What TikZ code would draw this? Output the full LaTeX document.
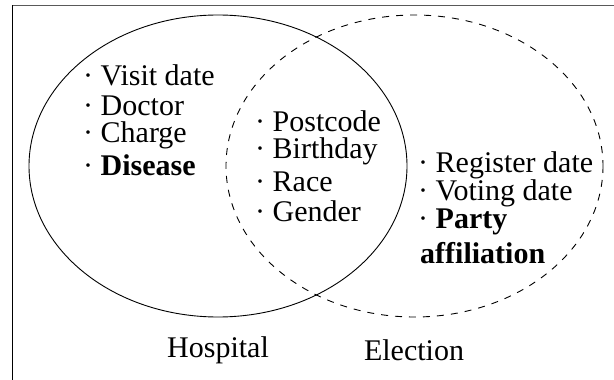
\documentclass[tikz,border=0pt]{standalone}
\usepackage{fontspec}
\setmainfont{Liberation Serif}
\begin{document}
\begin{tikzpicture}[x=1pt,y=-1pt,
  txt/.style={inner sep=0pt,font=\fontsize{30}{32}\selectfont,
              text height=0.68em, text depth=0.2em},
  item/.style={txt,anchor=base west},
  setline/.style={line width=0.9pt}]
\useasboundingbox (0,0) rectangle (614,380);

% partial frame: top and left edges
\draw[gray!70!black, line width=1pt] (12.5,5.5) -- (614,5.5);
\draw[black, line width=1.2pt] (12.5,5) -- (12.5,380);

% the two sets
\draw[setline] (218,166) ellipse [x radius=189, y radius=151];
\draw[setline, dash pattern=on 7pt off 7pt] (414.5,166) ellipse [x radius=188.5, y radius=151];

% hospital-only attributes
\node[item] (visit)   at (83,85)  {·\ Visit date};
\node[item] (doctor)  at (83,115) {·\ Doctor};
\node[item] (charge)  at (83,142) {·\ Charge};
\node[item] (disease) at (83,175) {·\ \textbf{Disease}};

% shared attributes
\node[item] (postcode) at (255,131) {·\ Postcode};
\node[item] (birthday) at (255,158) {·\ Birthday};
\node[item] (race)     at (255,191) {·\ Race};
\node[item] (gender)   at (255,221) {·\ Gender};

% election-only attributes
\node[item] (register) at (418,172) {·\ Register date};
\node[item] (voting)   at (418,200) {·\ Voting date};
\node[item] (party)    at (418,228) {·\ \textbf{Party}};
\node[item] (affil)    at (420,263) {\textbf{affiliation}};

% set labels
\node[txt, anchor=base] (hospital) at (218,357) {Hospital};
\node[txt, anchor=base] (election) at (414,360) {Election};
\end{tikzpicture}
\end{document}
